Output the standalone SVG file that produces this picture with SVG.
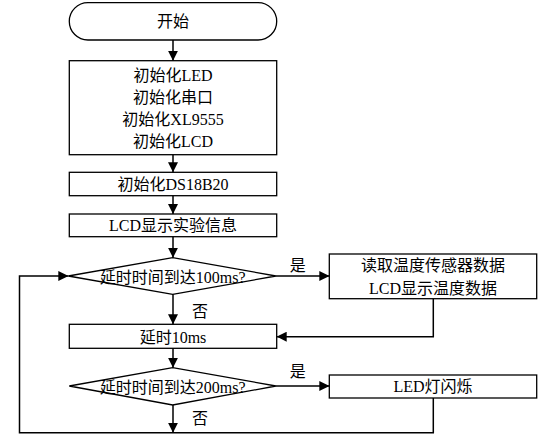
<svg xmlns="http://www.w3.org/2000/svg" width="549" height="441" viewBox="0 0 549 441">
<defs>
<marker id="ah" viewBox="0 0 10 10" refX="10" refY="5" markerWidth="10" markerHeight="10" markerUnits="userSpaceOnUse" orient="auto">
<path d="M0,0 L10,5 L0,10 Z" fill="#000"/>
</marker>
<style>
.s{fill:#fff;stroke:#000;stroke-width:1.3}
.t{font-family:"Liberation Serif","Noto Sans CJK SC",serif;font-size:16px;fill:#000;text-anchor:middle;dominant-baseline:central}
.c{fill:none;stroke:#000;stroke-width:1.5}
</style>
</defs>
<rect width="549" height="441" fill="#fff"/>
<g id="start"><rect class="s" x="69.3" y="2.7" width="207.4" height="37.3" rx="18.6"/><text class="t" x="173" y="21">开始</text></g>
<g id="init1"><rect class="s" x="69.3" y="60.7" width="207.4" height="94"/>
<text class="t" x="173" y="75">初始化LED</text>
<text class="t" x="173" y="97">初始化串口</text>
<text class="t" x="173" y="119">初始化XL9555</text>
<text class="t" x="173" y="141">初始化LCD</text></g>
<g id="init2"><rect class="s" x="69.3" y="172.3" width="207.4" height="23.4"/><text class="t" x="173" y="184.5">初始化DS18B20</text></g>
<g id="lcdinfo"><rect class="s" x="69.3" y="214" width="207.4" height="22.7"/><text class="t" x="173" y="225.7">LCD显示实验信息</text></g>
<g id="d1"><polygon class="s" points="68.3,276 172.7,257.7 276,276 172.7,294.3"/><text class="t" x="172.7" y="277">延时时间到达100ms?</text></g>
<g id="read"><rect class="s" x="329.3" y="254" width="207.4" height="44.7"/><text class="t" x="433" y="265.7">读取温度传感器数据</text><text class="t" x="433" y="288.3">LCD显示温度数据</text></g>
<g id="delay"><rect class="s" x="69.3" y="324.3" width="207.4" height="24"/><text class="t" x="173" y="337">延时10ms</text></g>
<g id="d2"><polygon class="s" points="69.3,386 172.7,367.7 276,386 172.7,405"/><text class="t" x="172.7" y="387">延时时间到达200ms?</text></g>
<g id="led"><rect class="s" x="329.3" y="375" width="207.4" height="23"/><text class="t" x="433" y="386.5">LED灯闪烁</text></g>
<g id="connectors">
<line class="c" x1="173" y1="40" x2="173" y2="60.7" marker-end="url(#ah)"/>
<line class="c" x1="173" y1="154.7" x2="173" y2="172.3" marker-end="url(#ah)"/>
<line class="c" x1="173" y1="195.7" x2="173" y2="214" marker-end="url(#ah)"/>
<line class="c" x1="173" y1="236.7" x2="173" y2="257.7" marker-end="url(#ah)"/>
<line class="c" x1="276" y1="276" x2="329.3" y2="276" marker-end="url(#ah)"/>
<line class="c" x1="173" y1="294.3" x2="173" y2="324.3" marker-end="url(#ah)"/>
<polyline class="c" points="433.3,298.7 433.3,336.7 276.7,336.7" marker-end="url(#ah)"/>
<line class="c" x1="173" y1="348.3" x2="173" y2="367.7" marker-end="url(#ah)"/>
<line class="c" x1="276" y1="386" x2="329.3" y2="386" marker-end="url(#ah)"/>
<line class="c" x1="173" y1="405" x2="173" y2="432.7" marker-end="url(#ah)"/>
<polyline class="c" points="433.3,398 433.3,432.7 19.5,432.7 19.5,276 68.3,276" marker-end="url(#ah)"/>
<text class="t" x="297.7" y="265">是</text>
<text class="t" x="200" y="311.7">否</text>
<text class="t" x="297.7" y="371.7">是</text>
<text class="t" x="200" y="418">否</text>
</g>
</svg>
